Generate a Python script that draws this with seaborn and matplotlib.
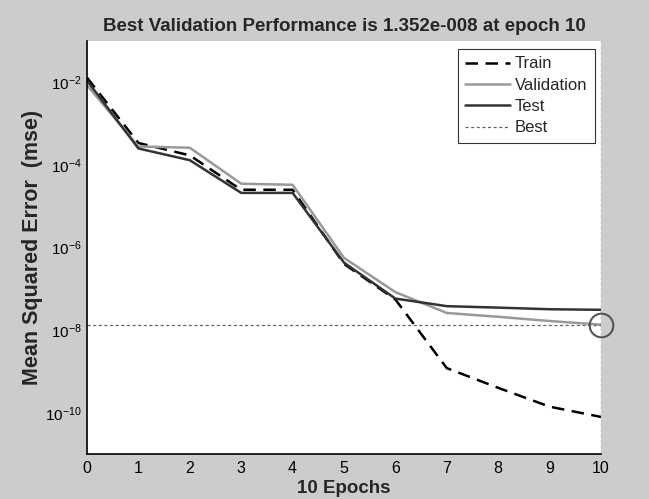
import numpy as np
import pandas as pd
import matplotlib
matplotlib.use("Agg")
import matplotlib.pyplot as plt
import seaborn as sns

epochs = [0, 1, 2, 3, 4, 5, 6, 7, 8, 9, 10]
train = [1.3e-2, 3.4e-4, 1.7e-4, 2.5e-5, 2.5e-5, 4.0e-7, 5.5e-8, 1.2e-9, 4.0e-10, 1.4e-10, 7.9e-11]
validation = [8.5e-3, 2.8e-4, 2.6e-4, 3.5e-5, 3.3e-5, 5.6e-7, 8.3e-8, 2.6e-8, 2.1e-8, 1.66e-8, 1.352e-8]
test = [1.1e-2, 2.5e-4, 1.3e-4, 2.1e-5, 2.1e-5, 4.3e-7, 5.8e-8, 3.8e-8, 3.5e-8, 3.2e-8, 3.1e-8]
best_epoch = 10
best_value = 1.352e-8
ytick_vals = [1e-10, 1e-8, 1e-6, 1e-4, 1e-2]
ytick_labels = [r"$\mathregular{10^{-10}}$", r"$\mathregular{10^{-8}}$", r"$\mathregular{10^{-6}}$",
                r"$\mathregular{10^{-4}}$", r"$\mathregular{10^{-2}}$"]
title = "Best Validation Performance is 1.352e-008 at epoch 10"

sns.set_style("white")
plt.rcParams["font.family"] = ["Liberation Sans", "DejaVu Sans"]
plt.rcParams["mathtext.default"] = "regular"

df = pd.DataFrame({"epoch": epochs, "Train": train, "Validation": validation, "Test": test})

fig = plt.figure(figsize=(6.49, 4.99), dpi=100, facecolor="#cccccc")
ax = fig.add_axes([87 / 649, 1 - 454 / 499, (601 - 87) / 649, (454 - 41) / 499])
ax.set_facecolor("white")

sns.lineplot(data=df, x="epoch", y="Train", ax=ax, color="black", lw=1.8,
             linestyle=(0, (5, 3)), label="Train")
sns.lineplot(data=df, x="epoch", y="Validation", ax=ax, color="#999999", lw=1.8, label="Validation")
sns.lineplot(data=df, x="epoch", y="Test", ax=ax, color="#333333", lw=1.8, label="Test")
ax.plot([0, best_epoch], [best_value, best_value], color="#666666", lw=0.9,
        linestyle=(0, (2.5, 2)), label="Best")
ax.axvline(best_epoch, color="#666666", lw=0.9, linestyle=(0, (2.5, 2)))
ax.plot([best_epoch], [best_value], marker="o", ms=17, mfc="none", mec="#555555", mew=1.5,
        clip_on=False, linestyle="none")

ax.set_yscale("log")
ax.set_xlim(0, 10)
ax.set_ylim(1e-11, 1e-1)
ax.set_xticks(range(0, 11))
ax.set_yticks(ytick_vals)
ax.set_yticklabels(ytick_labels)
ax.yaxis.set_minor_locator(matplotlib.ticker.NullLocator())
ax.tick_params(direction="in", length=4, width=1, labelsize=11.5, colors="black", pad=5)
ax.tick_params(axis="y", labelsize=11, pad=4)

for s in ["top", "right"]:
    ax.spines[s].set_visible(False)
for s in ["left", "bottom"]:
    ax.spines[s].set_color("black")
    ax.spines[s].set_linewidth(1.2)

ax.set_xlabel("10 Epochs", fontsize=13.5, fontweight="bold", labelpad=3)
ax.set_ylabel("Mean Squared Error  (mse)", fontsize=15.5, fontweight="bold", labelpad=1.5)
ax.set_title(title, fontsize=13.5, fontweight="bold", pad=7)

leg = ax.legend(loc="upper right", bbox_to_anchor=(595 / 649, 1 - 49 / 499),
                bbox_transform=fig.transFigure, frameon=True, fancybox=False,
                fontsize=12, handlelength=2.7, borderpad=0.45, labelspacing=0.38,
                handletextpad=0.3, borderaxespad=0)
leg.get_frame().set_edgecolor("black")
leg.get_frame().set_linewidth(0.8)

fig.savefig("out.png", dpi=100, facecolor=fig.get_facecolor())
